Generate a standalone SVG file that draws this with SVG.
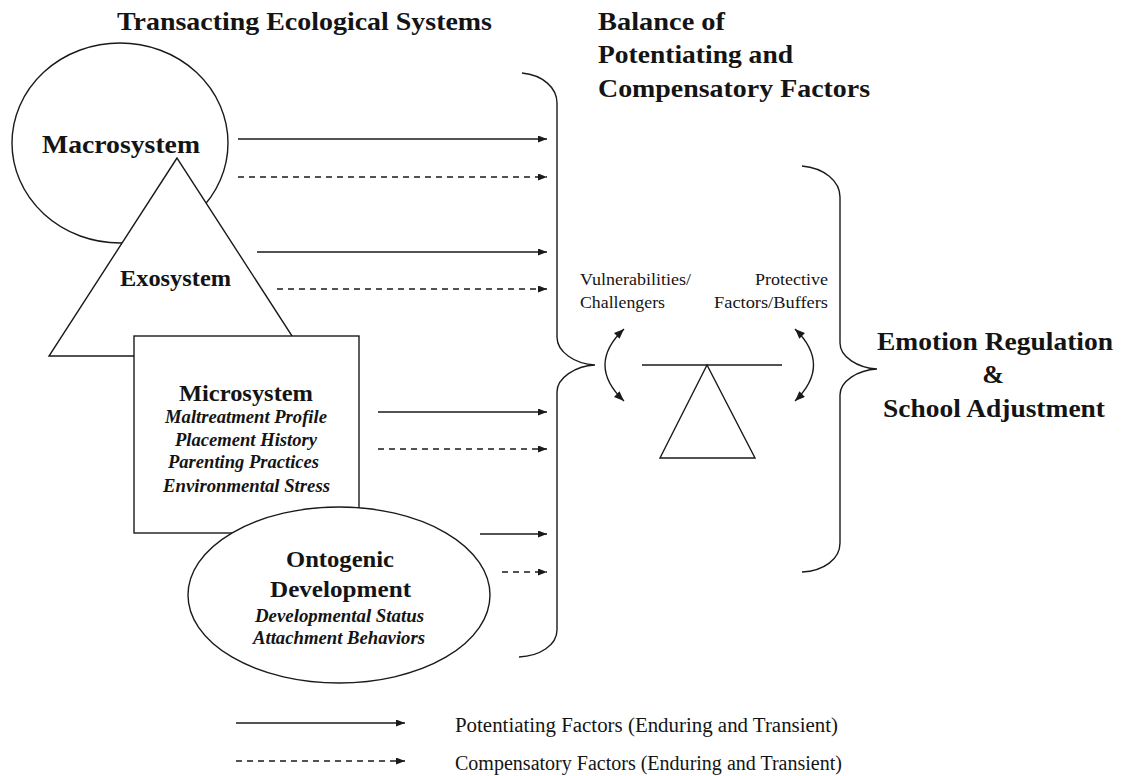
<svg xmlns="http://www.w3.org/2000/svg" width="1124" height="776" viewBox="0 0 1124 776">
<style>
text{font-family:"Liberation Serif","Times New Roman",serif;fill:#141414}
.b{font-weight:bold}
.bi{font-weight:bold;font-style:italic}
.shape{fill:#fff;stroke:#1a1a1a;stroke-width:1.4}
.ln{fill:none;stroke:#1a1a1a;stroke-width:1.4}
.dash{stroke-dasharray:6 5}
</style>
<defs>
<marker id="ah" markerUnits="userSpaceOnUse" markerWidth="10" markerHeight="8" refX="9" refY="3.5" orient="auto"><path d="M0,0 L9,3.5 L0,7 z" fill="#1a1a1a"/></marker>
<marker id="ah2" markerUnits="userSpaceOnUse" markerWidth="11" markerHeight="9" refX="10" refY="4" orient="auto-start-reverse"><path d="M0,0 L10,4 L0,8 z" fill="#1a1a1a"/></marker>
</defs>
<rect width="1124" height="776" fill="#fff"/>

<g id="titles">
<text class="b" x="117" y="30" font-size="26" textLength="375" lengthAdjust="spacingAndGlyphs">Transacting Ecological Systems</text>
<text class="b" x="598" y="30" font-size="26" textLength="127" lengthAdjust="spacingAndGlyphs">Balance of</text>
<text class="b" x="598" y="63" font-size="26" textLength="195" lengthAdjust="spacingAndGlyphs">Potentiating and</text>
<text class="b" x="598" y="97" font-size="26" textLength="272" lengthAdjust="spacingAndGlyphs">Compensatory Factors</text>
</g>

<g id="macrosystem">
<ellipse class="shape" cx="120" cy="143" rx="108" ry="100"/>
<text class="b" x="42" y="153" font-size="26" textLength="158" lengthAdjust="spacingAndGlyphs">Macrosystem</text>
</g>

<g id="exosystem">
<polygon class="shape" points="177,158 49,356 305,356"/>
<text class="b" x="120" y="286" font-size="24" textLength="111" lengthAdjust="spacingAndGlyphs">Exosystem</text>
</g>

<g id="microsystem">
<rect class="shape" x="134" y="336" width="225" height="197"/>
<text class="b" x="179" y="401" font-size="24" textLength="134" lengthAdjust="spacingAndGlyphs">Microsystem</text>
<text class="bi" x="165" y="423" font-size="18" textLength="162" lengthAdjust="spacingAndGlyphs">Maltreatment Profile</text>
<text class="bi" x="175" y="446" font-size="18" textLength="142" lengthAdjust="spacingAndGlyphs">Placement History</text>
<text class="bi" x="168" y="468" font-size="18" textLength="151" lengthAdjust="spacingAndGlyphs">Parenting Practices</text>
<text class="bi" x="163" y="492" font-size="18" textLength="167" lengthAdjust="spacingAndGlyphs">Environmental Stress</text>
</g>

<g id="ontogenic">
<ellipse class="shape" cx="339" cy="595" rx="151" ry="88"/>
<text class="b" x="286" y="567" font-size="24" textLength="108" lengthAdjust="spacingAndGlyphs">Ontogenic</text>
<text class="b" x="270" y="597" font-size="24" textLength="141" lengthAdjust="spacingAndGlyphs">Development</text>
<text class="bi" x="255" y="622" font-size="18" textLength="169" lengthAdjust="spacingAndGlyphs">Developmental Status</text>
<text class="bi" x="253" y="644" font-size="18" textLength="172" lengthAdjust="spacingAndGlyphs">Attachment Behaviors</text>
</g>

<g id="balance">
<path class="ln" d="M522,73 C543,75 557,88 557,103 L557,337 C557,352 575,364 595,365 C575,366 557,378 557,392 L557,630 C557,645 540,656 519,657"/>
<text x="580" y="285" font-size="17" textLength="111" lengthAdjust="spacingAndGlyphs">Vulnerabilities/</text>
<text x="580" y="308" font-size="17" textLength="85" lengthAdjust="spacingAndGlyphs">Challengers</text>
<text x="755" y="285" font-size="17" textLength="73" lengthAdjust="spacingAndGlyphs">Protective</text>
<text x="714" y="308" font-size="17" textLength="114" lengthAdjust="spacingAndGlyphs">Factors/Buffers</text>
<line class="ln" x1="642" y1="365" x2="782" y2="365"/>
<polygon class="ln" points="707,365 660,458 755,458"/>
</g>

<g id="outcome">
<path class="ln" d="M802,166 C824,168 840,181 840,197 L840,343 C840,357 858,368 877,369 C858,370 840,381 840,395 L840,543 C840,559 824,571 802,572"/>
<text class="b" x="877" y="350" font-size="26" textLength="236" lengthAdjust="spacingAndGlyphs">Emotion Regulation</text>
<text class="b" x="993" y="383" font-size="26" text-anchor="middle">&amp;</text>
<text class="b" x="883" y="417" font-size="26" textLength="222" lengthAdjust="spacingAndGlyphs">School Adjustment</text>
</g>

<g id="connectors">
<line class="ln" x1="238" y1="139" x2="547" y2="139" marker-end="url(#ah)"/>
<line class="ln dash" x1="238" y1="177" x2="547" y2="177" marker-end="url(#ah)"/>
<line class="ln" x1="257" y1="252" x2="547" y2="252" marker-end="url(#ah)"/>
<line class="ln dash" x1="277" y1="289" x2="547" y2="289" marker-end="url(#ah)"/>
<line class="ln" x1="378" y1="412" x2="547" y2="412" marker-end="url(#ah)"/>
<line class="ln dash" x1="378" y1="449" x2="547" y2="449" marker-end="url(#ah)"/>
<line class="ln" x1="480" y1="534" x2="547" y2="534" marker-end="url(#ah)"/>
<line class="ln dash" x1="502" y1="572" x2="547" y2="572" marker-end="url(#ah)"/>
<path class="ln" d="M624,329 Q586,365 624,401" marker-start="url(#ah2)" marker-end="url(#ah2)"/>
<path class="ln" d="M795,329 Q832,365 795,401" marker-start="url(#ah2)" marker-end="url(#ah2)"/>
</g>

<g id="legend">
<line class="ln" x1="236" y1="723" x2="405" y2="723" marker-end="url(#ah)"/>
<line class="ln dash" x1="236" y1="761" x2="405" y2="761" marker-end="url(#ah)"/>
<text x="455" y="732" font-size="20" textLength="383" lengthAdjust="spacingAndGlyphs">Potentiating Factors (Enduring and Transient)</text>
<text x="455" y="770" font-size="20" textLength="387" lengthAdjust="spacingAndGlyphs">Compensatory Factors (Enduring and Transient)</text>
</g>
</svg>
